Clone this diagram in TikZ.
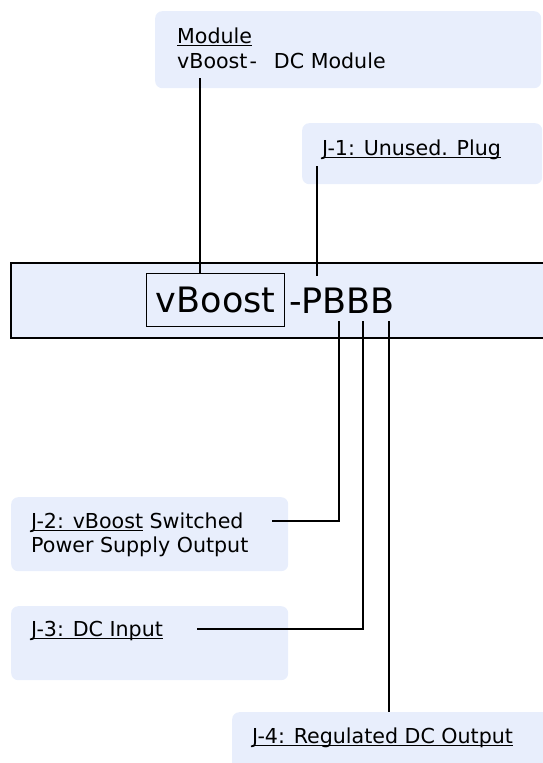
\documentclass[tikz,border=0pt]{standalone}
\usepackage{fontspec}
\setmainfont{DejaVu Sans}
\definecolor{boxfill}{RGB}{232,238,252}
\newsavebox\ulbox
\newcommand\ulx[1]{\sbox\ulbox{#1}\rlap{\rule[-3.2pt]{\wd\ulbox}{1.4pt}}\usebox\ulbox}
\begin{document}
\begin{tikzpicture}[x=1pt,y=-1pt,
  panel/.style={fill=boxfill, rounded corners=7pt, draw=none, anchor=north west, inner sep=0pt},
  lbl/.style={anchor=base west, inner sep=0pt, font=\fontsize{20.6}{24.5}\selectfont},
  wire/.style={line width=1.5pt, black}]
\useasboundingbox (0,0) rectangle (543,763);
\clip (0,0) rectangle (543,763);
% panels
\node[panel, minimum width=386pt, minimum height=77pt] (modbox) at (155,11) {};
\node[panel, minimum width=240pt, minimum height=61pt] (j1box) at (302,123) {};
\node[panel, minimum width=277pt, minimum height=74pt] (j2box) at (11,497) {};
\node[panel, minimum width=277pt, minimum height=74pt] (j3box) at (11,606) {};
\node[panel, minimum width=330pt, minimum height=80pt] (j4box) at (232,712) {};
% main bar
\node[draw, line width=1.6pt, fill=boxfill, anchor=north west, inner sep=0pt,
      minimum width=545pt, minimum height=75pt] (main) at (10,262) {};
\node[draw, line width=1.4pt, fill=boxfill, anchor=north west, inner sep=0pt,
      minimum width=138pt, minimum height=53pt, font=\fontsize{35}{40}\selectfont] (vbox) at (146,273) {vBoost};
\node[anchor=base west, inner sep=0pt, font=\fontsize{35}{40}\selectfont] (code) at (289,313) {-PBBB};
% labels
\node[lbl] (modt1) at (177,43) {\ulx{Module}};
\node[lbl] (modt2) at (177,68) {vBoost\hspace{2pt}-\hspace{17pt}DC Module};
\node[lbl] (j1t) at (322,155) {\ulx{J-1: Unused. Plug}};
\node[lbl] (j2t1) at (31,528) {\ulx{J-2: vBoost} Switched};
\node[lbl] (j2t2) at (31,552) {Power Supply Output};
\node[lbl] (j3t) at (31,636) {\ulx{J-3: DC Input}};
\node[lbl] (j4t) at (252,743) {\ulx{J-4: Regulated DC Output}};
% connector endpoints
\coordinate (mtop) at (200,78);
\coordinate (j1top) at (317,166);
\coordinate (j1end) at (317,276);
\coordinate (b1) at (339,321);
\coordinate (b2) at (363,321);
\coordinate (b3) at (389,321);
\coordinate (j2s) at (272,521);
\coordinate (j3s) at (197,629);
% connectors
\draw[wire] (mtop) -- (mtop |- vbox.north);
\draw[wire] (j1top) -- (j1end);
\draw[wire] (j2s) -| (b1);
\draw[wire] (j3s) -| (b2);
\draw[wire] (b3) -- (b3 |- j4box.north);
\end{tikzpicture}
\end{document}
